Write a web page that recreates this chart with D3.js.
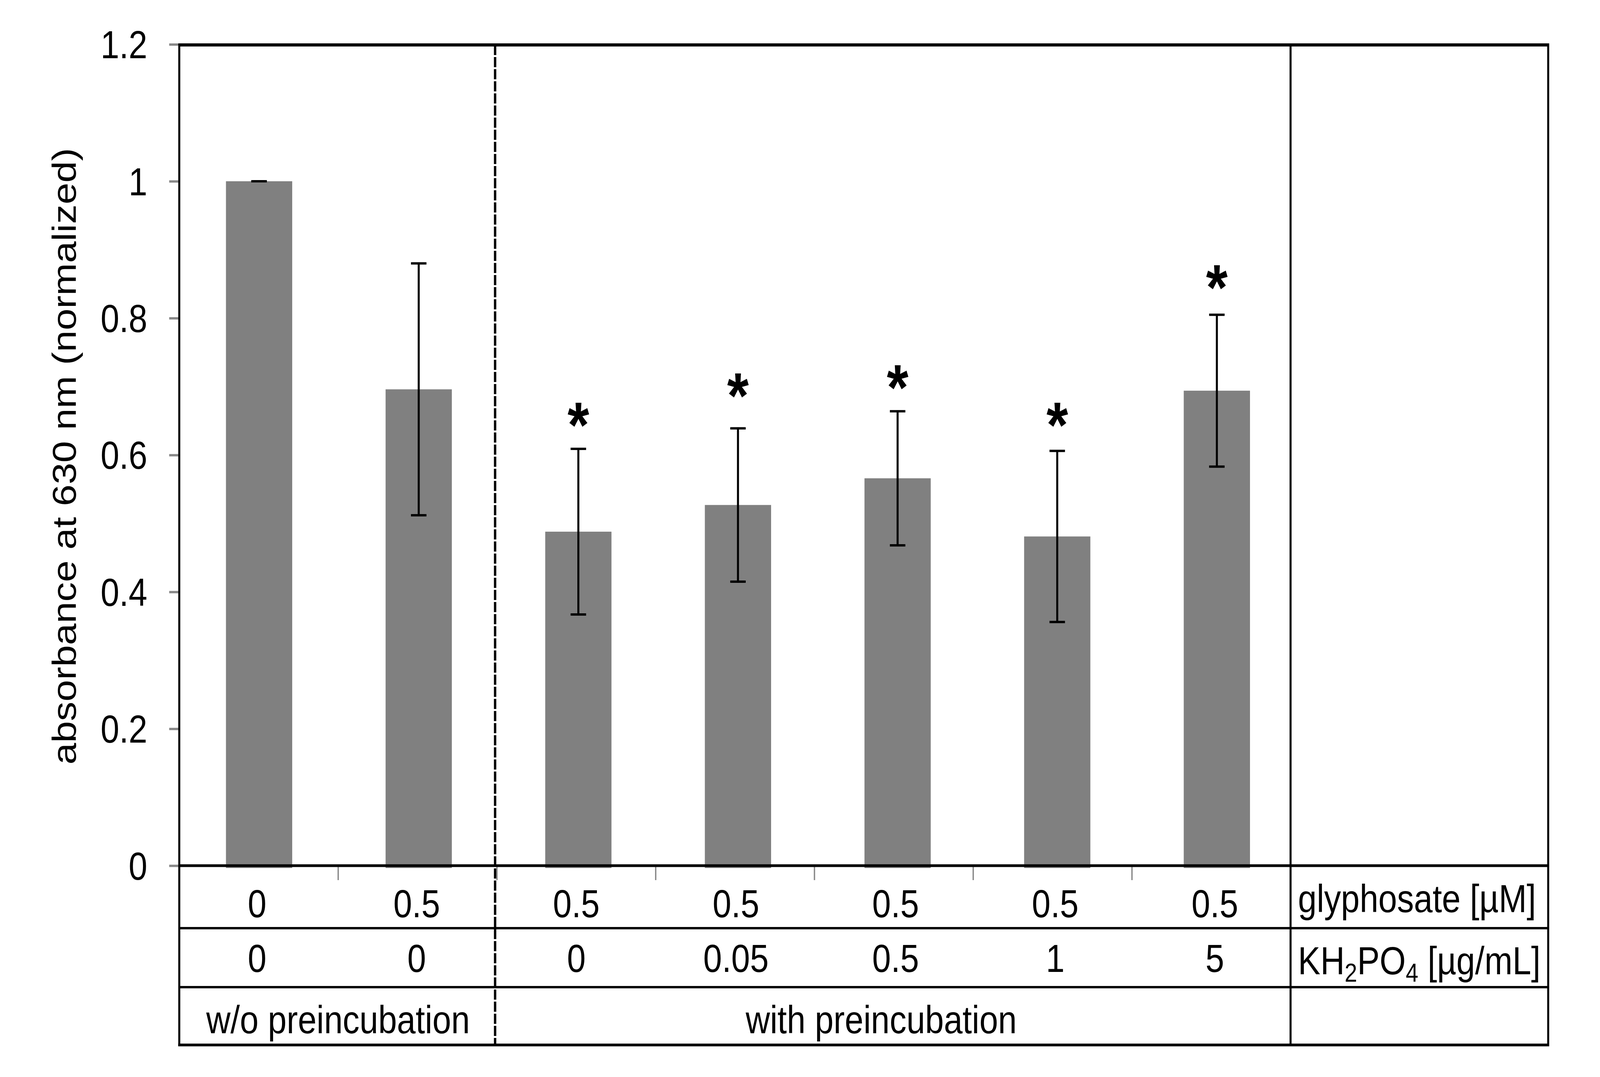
<!DOCTYPE html>
<html>
<head>
<meta charset="utf-8">
<script src="https://cdn.jsdelivr.net/npm/d3@7"></script>
<style>
  html, body { margin: 0; padding: 0; background: #fff; width: 100%; height: 100%; overflow: hidden; }
  svg { display: block; position: fixed; left: 0; top: 0; width: 100vw; height: 100vh; }
  text { font-family: "Liberation Sans", Arial, sans-serif; fill: #000; }
</style>
</head>
<body>
<script>
// ---------- data ----------
const categories = ["c1", "c2", "c3", "c4", "c5", "c6", "c7"];
const means      = [1.000, 0.696, 0.488, 0.527, 0.566, 0.481, 0.694];
const sds        = [0.000, 0.184, 0.121, 0.112, 0.098, 0.125, 0.111];
const starPos    = [null, null, 0.664, 0.707, 0.719, 0.664, 0.865];
const glyphosate = ["0", "0.5", "0.5", "0.5", "0.5", "0.5", "0.5"];
const kh2po4     = ["0", "0", "0", "0.05", "0.5", "1", "5"];
const yTicks     = [0, 0.2, 0.4, 0.6, 0.8, 1, 1.2];
const yTitle     = "absorbance at 630 nm (normalized)";
const groupLabels = ["w/o preincubation", "with preincubation"];
const rowLabel1  = "glyphosate [µM]";

(function () {
// ---------- layout ----------
const W = 4757, H = 2757;
const pLeft = 533, pTop = 115, plotRight = 3837, pRight = 4603;
const y0 = 2216, row1 = 2376, row2 = 2527, pBottom = 2675;
const dashX = 1472;
const FS = 100;

const svg = d3.select("body").append("svg")
  .attr("viewBox", `0 0 ${W} ${H}`)
  .attr("preserveAspectRatio", "none");
svg.append("rect").attr("width", W).attr("height", H).attr("fill", "#fff");

const y = d3.scaleLinear().domain([0, 1.2]).range([y0, y0 - 1752 * 1.2]);
const x = d3.scaleBand().domain(categories)
  .range([pLeft, pLeft + 7 * 474.6])
  .paddingInner(0.585).paddingOuter(0.2925);
const tableX = d3.scaleLinear().domain([0, 7]).range([pLeft, plotRight]);

// bars
svg.append("g").selectAll("rect").data(categories).join("rect")
  .attr("x", d => x(d))
  .attr("width", x.bandwidth())
  .attr("y", (d, i) => y(means[i]))
  .attr("height", (d, i) => y(0) - y(means[i]) + 6)
  .attr("fill", "#808080");

// y axis ticks + labels
const yAxis = d3.axisLeft(y).tickValues(yTicks).tickFormat(d3.format("~g"))
  .tickSize(30).tickPadding(65);
const gy = svg.append("g").attr("transform", `translate(${pLeft},0)`).call(yAxis);
gy.select(".domain").remove();
gy.selectAll(".tick line").attr("stroke", "#888").attr("stroke-width", 6);
gy.selectAll(".tick text").attr("font-size", FS)
  .attr("font-family", "Liberation Sans, Arial, sans-serif").attr("fill", "#000")
  .attr("dy", "0.35em");

// x axis small ticks (table column boundaries)
const xAxis = d3.axisBottom(tableX).tickValues([1, 2, 3, 4, 5, 6])
  .tickSize(37).tickFormat("");
const gx = svg.append("g").attr("transform", `translate(0,${y0})`).call(xAxis);
gx.select(".domain").remove();
gx.selectAll(".tick line").attr("stroke", "#888").attr("stroke-width", 4);

// frame / table lines
const lines = svg.append("g").attr("stroke", "#000").attr("fill", "none");
lines.append("line").attr("x1", pLeft).attr("x2", pRight).attr("y1", pTop).attr("y2", pTop).attr("stroke-width", 8);
lines.append("line").attr("x1", pLeft).attr("x2", pLeft).attr("y1", pTop - 4).attr("y2", pBottom + 3).attr("stroke-width", 6);
lines.append("line").attr("x1", pRight).attr("x2", pRight).attr("y1", pTop - 4).attr("y2", pBottom + 3).attr("stroke-width", 6);
lines.append("line").attr("x1", plotRight).attr("x2", plotRight).attr("y1", pTop).attr("y2", pBottom).attr("stroke-width", 6);
lines.append("line").attr("x1", pLeft).attr("x2", pRight).attr("y1", y0).attr("y2", y0).attr("stroke-width", 7);
lines.append("line").attr("x1", pLeft).attr("x2", pRight).attr("y1", row1).attr("y2", row1).attr("stroke-width", 6);
lines.append("line").attr("x1", pLeft).attr("x2", pRight).attr("y1", row2).attr("y2", row2).attr("stroke-width", 6);
lines.append("line").attr("x1", pLeft - 3).attr("x2", pRight + 3).attr("y1", pBottom).attr("y2", pBottom).attr("stroke-width", 7);
lines.append("line").attr("x1", dashX).attr("x2", dashX).attr("y1", pTop).attr("y2", pBottom)
  .attr("stroke-width", 7).attr("stroke-dasharray", "26,5");

// error bars
const cx = d => x(d) + x.bandwidth() / 2;
const eb = svg.append("g").attr("stroke", "#000").attr("stroke-width", 6);
categories.forEach((c, i) => {
  const hi = y(means[i] + sds[i]), lo = y(means[i] - sds[i]);
  if (sds[i] > 0) {
    eb.append("line").attr("x1", cx(c)).attr("x2", cx(c)).attr("y1", hi).attr("y2", lo);
  }
  eb.append("line").attr("x1", cx(c) - 23).attr("x2", cx(c) + 23).attr("y1", hi).attr("y2", hi);
  eb.append("line").attr("x1", cx(c) - 23).attr("x2", cx(c) + 23).attr("y1", lo).attr("y2", lo);
});

// significance asterisks
svg.append("g").selectAll("text")
  .data(categories.map((c, i) => ({ c, s: starPos[i] })).filter(d => d.s !== null))
  .join("text")
  .attr("x", d => cx(d.c))
  .attr("y", d => y(d.s))
  .attr("dy", "0.56em")
  .attr("text-anchor", "middle")
  .attr("font-weight", "bold")
  .attr("font-size", 165)
  .text("*");

// y title
svg.append("text")
  .attr("transform", `translate(225,1168) rotate(-90)`)
  .attr("text-anchor", "middle")
  .attr("font-size", FS)
  .text(yTitle);

// table row 1
svg.append("g").selectAll("text").data(categories).join("text")
  .attr("x", d => cx(d) - 6).attr("y", 2348)
  .attr("text-anchor", "middle").attr("font-size", FS)
  .text((d, i) => glyphosate[i]);
svg.append("text").attr("x", plotRight + 22).attr("y", 2335)
  .attr("font-size", FS).text(rowLabel1);

// table row 2
svg.append("g").selectAll("text").data(categories).join("text")
  .attr("x", d => cx(d) - 6).attr("y", 2488)
  .attr("text-anchor", "middle").attr("font-size", FS)
  .text((d, i) => kh2po4[i]);
const kl = svg.append("text").attr("x", plotRight + 22).attr("y", 2494).attr("font-size", FS);
kl.append("tspan").text("KH");
kl.append("tspan").attr("font-size", 67).attr("dy", 19).text("2");
kl.append("tspan").attr("dy", -19).text("PO");
kl.append("tspan").attr("font-size", 67).attr("dy", 19).text("4");
kl.append("tspan").attr("dy", -19).text(" [µg/mL]");

// table row 3 (groups)
svg.append("text").attr("x", (tableX(0) + tableX(2)) / 2).attr("y", 2645)
  .attr("text-anchor", "middle").attr("font-size", FS).text(groupLabels[0]);
svg.append("text").attr("x", 2620).attr("y", 2645)
  .attr("text-anchor", "middle").attr("font-size", FS).text(groupLabels[1]);
})();
</script>
</body>
</html>
